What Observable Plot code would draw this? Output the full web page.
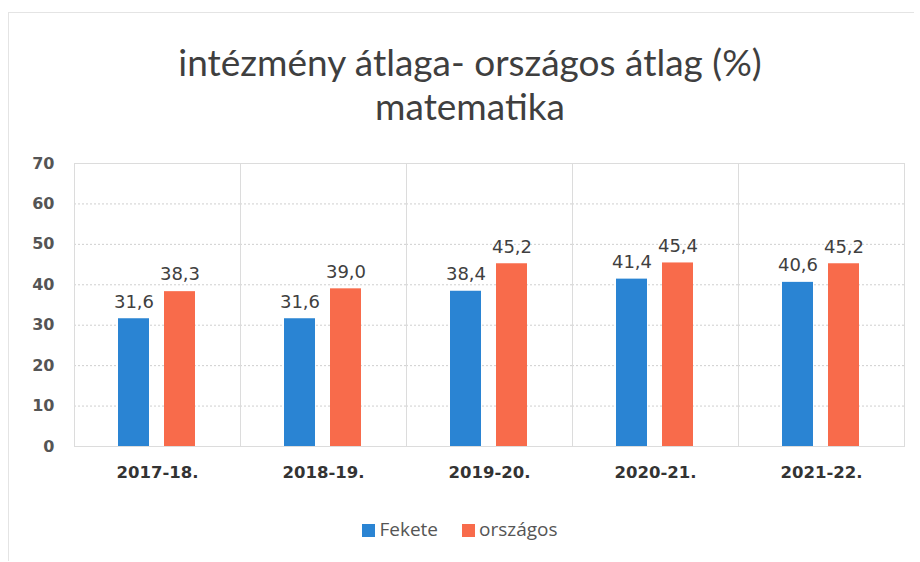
<!DOCTYPE html>
<html>
<head>
<meta charset="utf-8">
<script src="https://cdn.jsdelivr.net/npm/d3@7"></script>
<script src="https://cdn.jsdelivr.net/npm/@observablehq/plot@0.6"></script>
<style>
  html, body { margin: 0; padding: 0; background: #fff; }
  #wrap { position: relative; width: 920px; height: 562px; overflow: hidden; }
  #border { position: absolute; left: 8px; top: 12px; width: 905px; height: 548px; border-left: 1px solid #e4e4e4; border-top: 1px solid #e4e4e4; }
  #title { position: absolute; left: 0; top: 40px; width: 940px; text-align: center; font-family: Lato, "Open Sans", sans-serif; font-size: 37px; line-height: 44px; color: #3f3f3f; }
  #chart { position: absolute; left: 0; top: 150px; }
  #legend { position: absolute; left: 0; top: 516px; width: 920px; text-align: center; font-family: "Open Sans", Lato, sans-serif; font-size: 19px; color: #555; }
  .sw { display: inline-block; width: 13px; height: 13px; vertical-align: -1px; margin-right: 4px; }
  .item { display: inline-block; margin: 0 12px; }
</style>
</head>
<body>
<div id="wrap">
  <div id="border"></div>
  <div id="title"></div>
  <div id="chart"></div>
  <div id="legend"></div>
</div>
<script>
const titleLines = ["intézmény átlaga- országos átlag (%)", "matematika"];
const years = ["2017-18.", "2018-19.", "2019-20.", "2020-21.", "2021-22."];
const seriesNames = ["Fekete", "országos"];
const fekete = [31.6, 31.6, 38.4, 41.4, 40.6];
const orszagos = [38.3, 39.0, 45.2, 45.4, 45.2];
const yTicks = [0, 10, 20, 30, 40, 50, 60, 70];
const colors = ["#2a84d3", "#f86b4b"];

const data = [];
years.forEach((yr, i) => {
  data.push({year: yr, series: seriesNames[0], value: fekete[i]});
  data.push({year: yr, series: seriesNames[1], value: orszagos[i]});
});

document.getElementById("title").innerHTML = titleLines.join("<br>");

const fmt = v => v.toFixed(1).replace(".", ",");

const chart = Plot.plot({
  width: 920,
  height: 340,
  marginTop: 13,
  marginBottom: 44,
  marginLeft: 72,
  marginRight: 15,
  style: {fontFamily: "DejaVu Sans, sans-serif", background: "transparent"},
  fx: {domain: years, padding: 0, label: null, axis: null},
  x: {domain: seriesNames, paddingInner: 0.32, paddingOuter: 0.94, axis: null},
  y: {domain: [0, 70], ticks: yTicks, label: null},
  color: {domain: seriesNames, range: colors},
  marks: [
    Plot.ruleY(yTicks.filter(d => d > 0), {stroke: "#cfcfcf", strokeDasharray: "2,2", strokeWidth: 1}),
    Plot.frame({stroke: "#dcdcdc"}),
    Plot.barY(data, {fx: "year", x: "series", y: "value", fill: "series"}),
    Plot.text(data, {fx: "year", x: "series", y: "value", text: d => fmt(d.value), dy: -17, fontSize: 18, fill: "#404040"}),
    Plot.axisY({ticks: yTicks, tickSize: 0, tickPadding: 20, fontSize: 16, fontWeight: "bold", fill: "#555", tickFormat: d => d}),
    Plot.axisFx({anchor: "bottom", tickSize: 0, tickPadding: 20, fontSize: 16.5, fontWeight: "bold", fill: "#333", label: null})
  ]
});
document.getElementById("chart").appendChild(chart);

const legend = document.getElementById("legend");
seriesNames.forEach((s, i) => {
  const item = document.createElement("span");
  item.className = "item";
  const sw = document.createElement("span");
  sw.className = "sw";
  sw.style.background = colors[i];
  item.appendChild(sw);
  item.appendChild(document.createTextNode(s));
  legend.appendChild(item);
});
</script>
</body>
</html>
